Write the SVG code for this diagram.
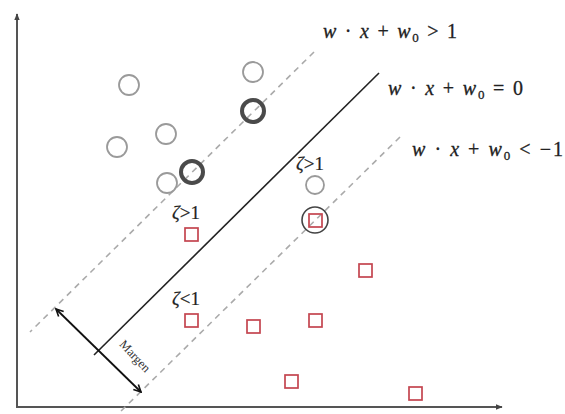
<svg xmlns="http://www.w3.org/2000/svg" width="565" height="414" viewBox="0 0 565 414">
<style>
.ax{stroke:#555;stroke-width:2;fill:none}
.dash{stroke:#aaa;stroke-width:1.6;stroke-dasharray:6 5;fill:none}
.solid{stroke:#222;stroke-width:1.6;fill:none}
.pt{fill:none;stroke:#9a9a9a;stroke-width:1.8}
.sv{fill:none;stroke:#4a4a4a;stroke-width:4}
.sq{fill:none;stroke:#c4454f;stroke-width:1.7}
.eq{font-family:"Liberation Serif",serif;font-size:20px;fill:#222;stroke:#222;stroke-width:0.3}
.it{font-style:italic}
.lab{font-family:"Liberation Serif",serif;font-size:19px;fill:#222;stroke:#222;stroke-width:0.2}
.mg{font-family:"Liberation Serif",serif;font-size:12.5px;fill:#333}
</style>
<defs>
<marker id="ah" viewBox="0 0 10 10" refX="9" refY="5" markerWidth="7" markerHeight="7" orient="auto-start-reverse" markerUnits="userSpaceOnUse">
<path d="M0,1 L10,5 L0,9 z" fill="#444"/>
</marker>
<marker id="mh" viewBox="0 0 10 10" refX="9" refY="5" markerWidth="9" markerHeight="9" orient="auto-start-reverse" markerUnits="userSpaceOnUse">
<path d="M1,1 L9,5 L1,9" fill="none" stroke="#111" stroke-width="1.8"/>
</marker>
</defs>
<g id="axes">
<line class="ax" x1="17" y1="407" x2="17" y2="14" marker-end="url(#ah)"/>
<line class="ax" x1="16" y1="407" x2="502" y2="407" marker-end="url(#ah)"/>
</g>
<g id="connectors">
<line class="dash" x1="314" y1="52" x2="30" y2="332"/>
<line class="dash" x1="400" y1="137" x2="118" y2="414"/>
<line class="solid" x1="379" y1="73" x2="94" y2="355"/>
<line x1="56" y1="309" x2="141" y2="392" stroke="#111" stroke-width="1.8" marker-start="url(#mh)" marker-end="url(#mh)"/>
</g>
<g id="circles">
<circle class="pt" cx="129" cy="85" r="10"/>
<circle class="pt" cx="253" cy="72" r="10"/>
<circle class="pt" cx="117" cy="147" r="10"/>
<circle class="pt" cx="166" cy="134" r="10"/>
<circle class="pt" cx="167" cy="183" r="10"/>
<circle class="pt" cx="315" cy="185" r="9"/>
<circle class="sv" cx="253" cy="111" r="11"/>
<circle class="sv" cx="192" cy="172" r="11"/>
</g>
<g id="squares">
<rect class="sq" x="185" y="228" width="13" height="13"/>
<rect class="sq" x="185" y="314" width="13" height="13"/>
<rect class="sq" x="247" y="320" width="13" height="13"/>
<rect class="sq" x="309" y="214" width="13" height="13"/>
<circle cx="315" cy="220" r="13" fill="none" stroke="#444" stroke-width="1.6"/>
<rect class="sq" x="359" y="264" width="13" height="13"/>
<rect class="sq" x="309" y="314" width="13" height="13"/>
<rect class="sq" x="285" y="375" width="13" height="13"/>
<rect class="sq" x="409" y="387" width="13" height="13"/>
</g>
<g id="labels">
<text class="eq" x="323" y="38" textLength="134" lengthAdjust="spacing"><tspan class="it">w</tspan> · <tspan class="it">x</tspan> + <tspan class="it">w</tspan><tspan font-size="13" dy="4">0</tspan><tspan dy="-4"> &gt; 1</tspan></text>
<text class="eq" x="388" y="95" textLength="135" lengthAdjust="spacing"><tspan class="it">w</tspan> · <tspan class="it">x</tspan> + <tspan class="it">w</tspan><tspan font-size="13" dy="4">0</tspan><tspan dy="-4"> = 0</tspan></text>
<text class="eq" x="412" y="156" textLength="151" lengthAdjust="spacing"><tspan class="it">w</tspan> · <tspan class="it">x</tspan> + <tspan class="it">w</tspan><tspan font-size="13" dy="4">0</tspan><tspan dy="-4"> &lt; −1</tspan></text>
<text class="lab" x="296" y="170"><tspan class="it">ζ</tspan>&gt;1</text>
<text class="lab" x="172" y="219"><tspan class="it">ζ</tspan>&gt;1</text>
<text class="lab" x="172" y="305"><tspan class="it">ζ</tspan>&lt;1</text>
<text class="mg" x="0" y="0" transform="translate(132,359) rotate(47)" text-anchor="middle">Margen</text>
</g>
</svg>
